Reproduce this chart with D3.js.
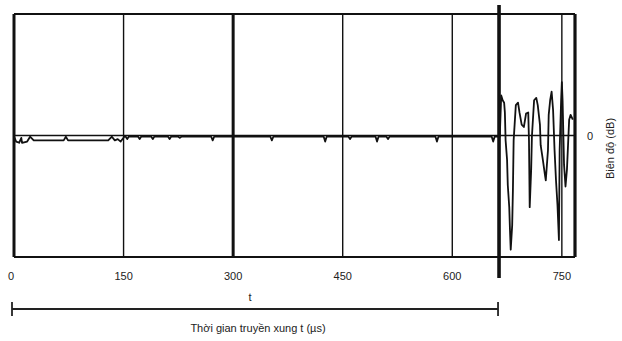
<!DOCTYPE html>
<meta charset="utf-8">
<style>
body { margin: 0; background: #fff; }
text { font-family: "Liberation Sans", Arial, sans-serif; fill: #222; }
.trace { fill: none; stroke: #111; stroke-width: 1.8px; stroke-linejoin: round; }
</style>
<body>
<script src="https://d3js.org/d3.v7.min.js"></script>
<script>

// time axis ticks (µs)
var tickValues = [0, 150, 300, 450, 600, 750];
var thickTicks = [0, 300];
var markerTime = 664;   // end of the transit time t

// waveform: time (µs) and amplitude (arbitrary, 0 = baseline)
var times = [0, 3, 7, 10, 11, 18, 22, 27, 42, 63, 68, 71, 74, 77, 104, 129, 134, 138, 142, 146, 151,
  153, 155, 157, 170, 172, 174, 188, 190, 192, 211, 213, 215, 225, 227, 229,
  270, 272, 274, 351, 353, 355, 424, 426, 428, 458, 460, 462, 495, 497, 499,
  510, 512, 514, 577, 579, 581, 654, 656, 658, 662,
  665, 667, 669, 671, 672, 673, 675, 676, 678, 679, 680, 682, 683, 684, 687, 690, 692, 695,
  698, 701, 704, 705, 706, 708, 709, 712, 715, 717, 720, 721, 724, 727, 728, 731, 732, 734,
  736, 738, 740, 742, 744, 746, 747, 749, 750, 751, 753, 755, 757, 760, 762, 765];
var amps = [-1, -5, -6, -2, -6, -5, -1, -4, -4, -4, -4, -1, -4, -4, -4, -4, -1, -4, -3, -5, -1,
  -1, -3, -1, -1, -3, -1, -1, -3, -1, -1, -3, -1, -1, -2, -1,
  -1, -4, -1, -1, -4, -1, -1, -5, -1, -1, -3, -1, -1, -5, -1,
  -1, -3, -1, -1, -5, -1, -1, -5, -1, -1,
  -1, 33, 29, 27, 19, -4, -20, -41, -59, -78, -94, -74, -45, -4, 25, 27, 19, 9,
  7, 18, 19, -4, -59, -28, -1, 29, 31, 25, 9, -8, -20, -33, -37, -12, 17, 29,
  36, 21, -12, -37, -57, -86, -12, 29, 44, 29, -24, -42, -28, 13, 17, 13];

var margin = {top: 14, left: 14},
    width = 561,
    height = 243;

var svg = d3.select("body").append("svg")
    .attr("width", 622)
    .attr("height", 341);

var g = svg.append("g")
    .attr("transform", "translate(" + margin.left + "," + margin.top + ")");

var x = d3.scaleLinear().domain([0, 768]).range([0, width]);
var y = d3.scaleLinear().domain([-100, 100]).range([height, 0]);

// frame top / bottom
g.append("line").attr("x1", 0).attr("x2", width).attr("y1", 0).attr("y2", 0)
    .attr("stroke", "#111").attr("stroke-width", 1.8);
g.append("line").attr("x1", 0).attr("x2", width).attr("y1", height).attr("y2", height)
    .attr("stroke", "#111").attr("stroke-width", 1.8);

// vertical grid lines
g.selectAll(".grid").data(tickValues).enter().append("line")
    .attr("x1", function(d) { return x(d); })
    .attr("x2", function(d) { return x(d); })
    .attr("y1", 0).attr("y2", height)
    .attr("stroke", "#111")
    .attr("stroke-width", function(d) { return thickTicks.indexOf(d) >= 0 ? 3 : 1.4; });

// right edge
g.append("line").attr("x1", width).attr("x2", width).attr("y1", 0).attr("y2", height)
    .attr("stroke", "#111").attr("stroke-width", 3.2);

// zero line
g.append("line").attr("x1", 0).attr("x2", width).attr("y1", y(0)).attr("y2", y(0))
    .attr("stroke", "#111").attr("stroke-width", 1.4);

// the trace
var valueline = d3.line()
    .x(function(d, i) { return x(times[i]); })
    .y(function(d, i) { return y(amps[i]); });

g.append("path")
    .datum(times)
    .attr("class", "trace")
    .attr("d", valueline);

// marker at end of transit time
g.append("line")
    .attr("x1", x(markerTime)).attr("x2", x(markerTime))
    .attr("y1", -9).attr("y2", height + 21)
    .attr("stroke", "#111").attr("stroke-width", 3.6);

// tick labels
g.selectAll(".tick-label").data(tickValues).enter().append("text")
    .attr("x", function(d) { return x(d) + (d === 0 ? -3 : 0); })
    .attr("y", height + 23)
    .attr("text-anchor", "middle")
    .style("font-size", "11px")
    .text(function(d) { return d; });

// right side "0" and amplitude title
g.append("text")
    .attr("x", width + 15).attr("y", y(0) + 4)
    .attr("text-anchor", "middle")
    .style("font-size", "11px")
    .text("0");

g.append("text")
    .attr("transform", "translate(" + (width + 39) + "," + (y(0) + 13) + ") rotate(-90)")
    .attr("text-anchor", "middle")
    .style("font-size", "11px")
    .text("Biên độ (dB)");

// transit-time bracket
var by = height + 52;
g.append("line").attr("x1", x(0) - 2).attr("x2", x(markerTime) - 1)
    .attr("y1", by).attr("y2", by).attr("stroke", "#222").attr("stroke-width", 1.8);
[x(0) - 2, x(markerTime) - 1].forEach(function(px) {
  g.append("line").attr("x1", px).attr("x2", px)
      .attr("y1", by - 7).attr("y2", by + 7)
      .attr("stroke", "#222").attr("stroke-width", 1.8);
});

g.append("text")
    .attr("x", 236).attr("y", by - 8)
    .attr("text-anchor", "middle")
    .style("font-size", "11px")
    .text("t");

g.append("text")
    .attr("x", 244).attr("y", by + 23)
    .attr("text-anchor", "middle")
    .style("font-size", "11px")
    .text("Thời gian truyền xung t (µs)");

</script>
</body>
